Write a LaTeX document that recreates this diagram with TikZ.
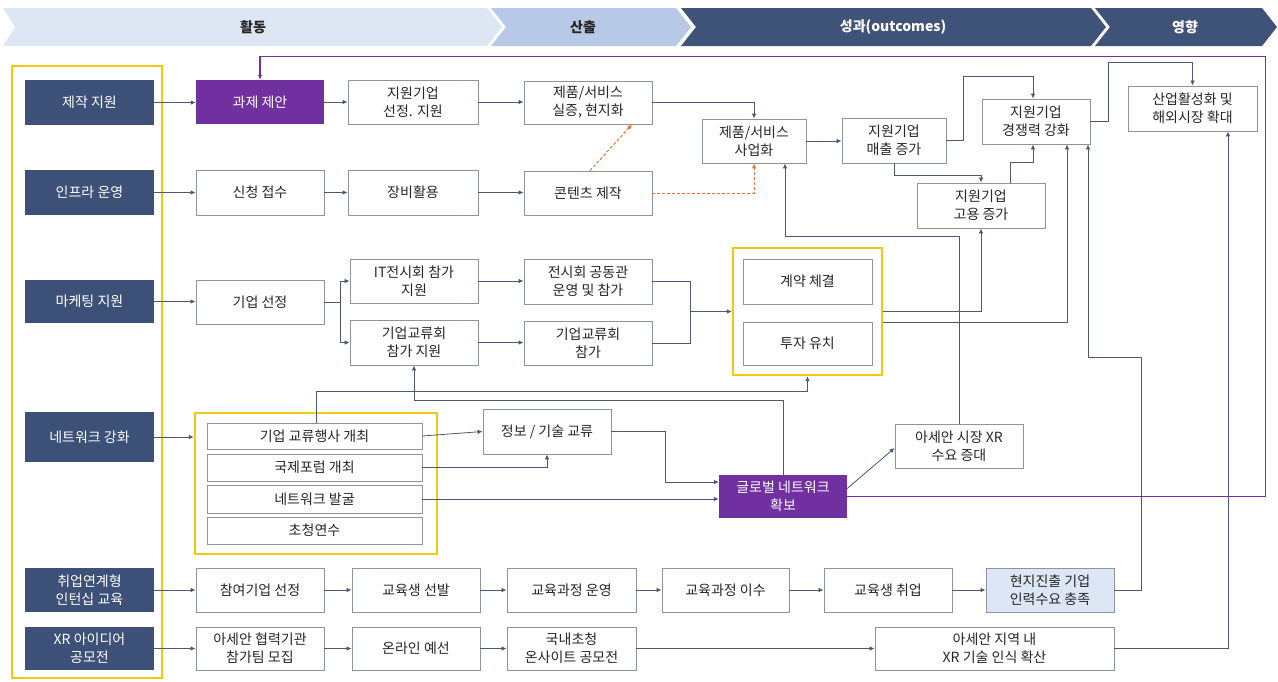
\documentclass[tikz,border=0pt]{standalone}
\usepackage{fontspec}
\setmainfont{Noto Sans CJK KR}
\usetikzlibrary{arrows.meta,calc}
\definecolor{navy}{HTML}{3C5078}
\definecolor{chevA}{HTML}{DDE6F3}
\definecolor{chevB}{HTML}{B7C9E6}
\definecolor{chevC}{HTML}{3F5277}
\definecolor{purp}{HTML}{7030A0}
\definecolor{yel}{HTML}{F2C811}
\definecolor{boxline}{HTML}{8E939E}
\definecolor{arrc}{HTML}{4B5876}
\definecolor{orng}{HTML}{E8733A}
\definecolor{lblue}{HTML}{DCE6F4}
\definecolor{txt}{HTML}{262626}
\newcommand{\bx}[7][box]{\node[#1, minimum width={#5-#3}, minimum height={#6-#4}] (#2) at ({(#3+#5)/2},{(#4+#6)/2}) {#7};}
\begin{document}
\begin{tikzpicture}[x=1pt,y=-1pt,
  font=\fontsize{14}{18}\selectfont,
  box/.style={draw=boxline, line width=0.9pt, fill=white, text=txt, align=center, inner sep=0pt},
  lbbox/.style={box, fill=lblue},
  nbox/.style={fill=navy, text=white, align=center, inner sep=0pt},
  pbox/.style={fill=purp, text=white, align=center, inner sep=0pt},
  yframe/.style={draw=yel, line width=2.4pt, inner sep=0pt},
  tip/.style={-{Latex[length=5pt,width=4.5pt]}},
  arr/.style={draw=arrc, line width=0.8pt, tip},
  lin/.style={draw=arrc, line width=0.8pt},
  oarr/.style={draw=orng, line width=1pt, dash pattern=on 3pt off 2pt, tip},
  parr/.style={draw=purp, line width=1.3pt, tip},
  hdr/.style={font=\fontsize{14}{16}\selectfont\bfseries}]
\useasboundingbox (0,0) rectangle (1278,681);
\fill[white] (0,0) rectangle (1278,681);
% header chevrons
\fill[chevA] (3,8) -- (487,8) -- (502,27) -- (487,46) -- (3,46) -- (15,27) -- cycle;
\fill[chevB] (491,8) -- (676,8) -- (691,27) -- (676,46) -- (491,46) -- (506,27) -- cycle;
\fill[chevC] (681,8) -- (1091,8) -- (1106,27) -- (1091,46) -- (681,46) -- (696,27) -- cycle;
\fill[chevC] (1095,8) -- (1262,8) -- (1277,27) -- (1262,46) -- (1095,46) -- (1110,27) -- cycle;
\node[hdr, text=txt] (hA) at (253,27) {활동};
\node[hdr, text=txt] (hB) at (583,27) {산출};
\node[hdr, text=white] (hC) at (893,27) {성과(outcomes)};
\node[hdr, text=white] (hD) at (1185,27) {영향};
% left frame and navy boxes
\bx[yframe]{frame}{12}{66}{162}{678}{}
\bx[nbox]{n1}{25}{80}{154}{125}{제작 지원}
\bx[nbox]{n2}{25}{170}{154}{215}{인프라 운영}
\bx[nbox]{n3}{25}{280}{154}{323}{마케팅 지원}
\bx[nbox]{n4}{25}{412}{154}{462}{네트워크 강화}
\bx[nbox]{n5}{25}{568}{154}{612}{취업연계형\\인턴십 교육}
\bx[nbox]{n6}{25}{627}{154}{670}{XR 아이디어\\공모전}
% column 2
\bx[pbox]{a1}{196}{80}{324}{124}{과제 제안}
\bx{a2}{196}{170}{324}{215}{신청 접수}
\bx{a3}{196}{280}{324}{324}{기업 선정}
\bx[yframe]{g1}{195}{413}{437}{554}{}
\bx{a4a}{207}{423}{422}{449}{기업 교류행사 개최}
\bx{a4b}{207}{454}{422}{481}{국제포럼 개최}
\bx{a4c}{207}{485}{422}{513}{네트워크 발굴}
\bx{a4d}{207}{517}{422}{544}{초청연수}
\bx{a5}{196}{568}{324}{612}{참여기업 선정}
\bx{a6}{196}{627}{324}{670}{아세안 협력기관\\참가팀 모집}
% column 3
\bx{b1}{348}{80}{478}{124}{지원기업\\선정. 지원}
\bx{b2}{348}{170}{478}{215}{장비활용}
\bx{b3a}{350}{259}{478}{303}{IT전시회 참가\\지원}
\bx{b3b}{350}{320}{478}{365}{기업교류회\\참가 지원}
\bx{b5}{352}{568}{480}{612}{교육생 선발}
\bx{b6}{352}{627}{480}{670}{온라인 예선}
% column 4
\bx{c1}{524}{81}{652}{124}{제품/서비스\\실증, 현지화}
\bx{c2}{524}{171}{652}{215}{콘텐츠 제작}
\bx{c3a}{524}{259}{652}{304}{전시회 공동관\\운영 및 참가}
\bx{c3b}{524}{321}{652}{365}{기업교류회\\참가}
\bx{c4}{483}{409}{611}{454}{정보 / 기술 교류}
\bx{c5}{507}{568}{636}{612}{교육과정 운영}
\bx{c6}{507}{627}{636}{670}{국내초청\\온사이트 공모전}
% column 5
\bx{d1}{702}{119}{806}{163}{제품/서비스\\사업화}
\bx[yframe]{g2}{733}{248}{882}{375}{}
\bx{d3a}{743}{259}{872}{304}{계약 체결}
\bx{d3b}{743}{322}{872}{365}{투자 유치}
\bx[pbox]{d4}{719}{475}{847}{518}{글로벌 네트워크\\확보}
\bx{d5}{662}{568}{789}{612}{교육과정 이수}
% column 6
\bx{e1}{842}{118}{946}{163}{지원기업\\매출 증가}
\bx{e4}{895}{424}{1023}{468}{아세안 시장 XR\\수요 증대}
\bx{e5}{824}{568}{952}{612}{교육생 취업}
\bx{e6}{875}{627}{1114}{670}{아세안 지역 내\\XR 기술 인식 확산}
% column 7
\bx{f1}{982}{99}{1090}{144}{지원기업\\경쟁력 강화}
\bx{f2}{917}{183}{1045}{228}{지원기업\\고용 증가}
\bx[lbbox]{f5}{986}{568}{1114}{612}{현지진출 기업\\인력수요 충족}
\bx{h1}{1128}{86}{1257}{131}{산업활성화 및\\해외시장 확대}
% left to column 2
\draw[arr] (n1.east) -- (n1.east -| a1.west);
\draw[arr] (n2.east) -- (n2.east -| a2.west);
\draw[arr] (n3.east) -- (n3.east -| a3.west);
\draw[arr] (n4.east) -- (n4.east -| g1.west);
\draw[arr] (n5.east) -- (n5.east -| a5.west);
\draw[arr] (n6.east) -- (n6.east -| a6.west);
% row 1 and 2
\draw[arr] (a1.east) -- (a1.east -| b1.west);
\draw[arr] (b1.east) -- (b1.east -| c1.west);
\draw[arr] (c1.east) -| (d1.north);
\draw[arr] (a2.east) -- (a2.east -| b2.west);
\draw[arr] (b2.east) -- (b2.east -| c2.west);
\draw[oarr] ($(c2.north)+(2,0)$) -- ($(c1.south)+(44,0)$);
\draw[oarr] (c2.east) -| (d1.south);
\draw[arr] (d1.east) -- (d1.east -| e1.west);
\draw[arr] (e1.east) -- ++(17,0) |- ($(f1.north)+(-3,-22)$) -- ($(f1.north)+(-3,0)$);
\draw[arr] (e1.south) -- ++(0,12) -| (f2.north);
\draw[arr] ($(f2.north)+(29,0)$) -- ++(0,-20) -| ($(f1.south)+(-3,0)$);
\draw[arr] (f1.east) -- ++(18,0) |- ($(h1.north)+(0,-23)$) -- (h1.north);
% marketing row
\draw[arr] (a3.east) -- ++(16,0) |- (b3a.west);
\draw[arr] (a3.east) -- ++(16,0) |- (b3b.west);
\draw[arr] (b3a.east) -- (b3a.east -| c3a.west);
\draw[arr] (b3b.east) -- (b3b.east -| c3b.west);
\draw[lin] (c3a.east) -| ($(g2.west)+(-41,0)$);
\draw[arr] (c3b.east) -| ($(g2.west)+(-41,0)$) -- (g2.west);
\draw[arr] (g2.east) -| (f2.south);
\draw[arr] ($(g2.east)+(0,10.5)$) -| ($(f1.south)+(31,0)$);
% network row
\draw[arr] ($(a4a.north)+(1.5,0)$) |- ($(g2.south)+(0,15)$) -- (g2.south);
\draw[arr] (d4.north) |- ($(b3b.south)+(0,35)$) -- (b3b.south);
\draw[arr] (a4a.east) -- (c4.west);
\draw[arr] (a4b.east) -| (c4.south);
\draw[arr] (a4c.east) -- (a4c.east -| d4.west);
\draw[arr] (c4.east) -- ++(54,0) |- ($(d4.west)+(0,-14.5)$);
\draw[arr] ($(d4.east)+(0,-8)$) -- ($(e4.west)+(0,2)$);
\draw[arr] (e4.north) |- ($(d1.south)+(31,73)$) -- ($(d1.south)+(31,0)$);
% internship row
\draw[arr] (a5.east) -- (a5.east -| b5.west);
\draw[arr] (b5.east) -- (b5.east -| c5.west);
\draw[arr] (c5.east) -- (c5.east -| d5.west);
\draw[arr] (d5.east) -- (d5.east -| e5.west);
\draw[arr] (e5.east) -- (e5.east -| f5.west);
\draw[arr] (f5.east) -- ++(27,0) |- ($(f1.south)+(52,213)$) -- ($(f1.south)+(52,0)$);
% contest row
\draw[arr] (a6.east) -- (a6.east -| b6.west);
\draw[arr] (b6.east) -- (b6.east -| c6.west);
\draw[arr] (c6.east) -- (c6.east -| e6.west);
\draw[arr] (e6.east) -| ($(h1.south)+(35.5,0)$);
% purple loop
\draw[parr] (d4.east) -- ++(418,0) |- ($(a1.north)+(0,-23)$) -- (a1.north);
\end{tikzpicture}
\end{document}
